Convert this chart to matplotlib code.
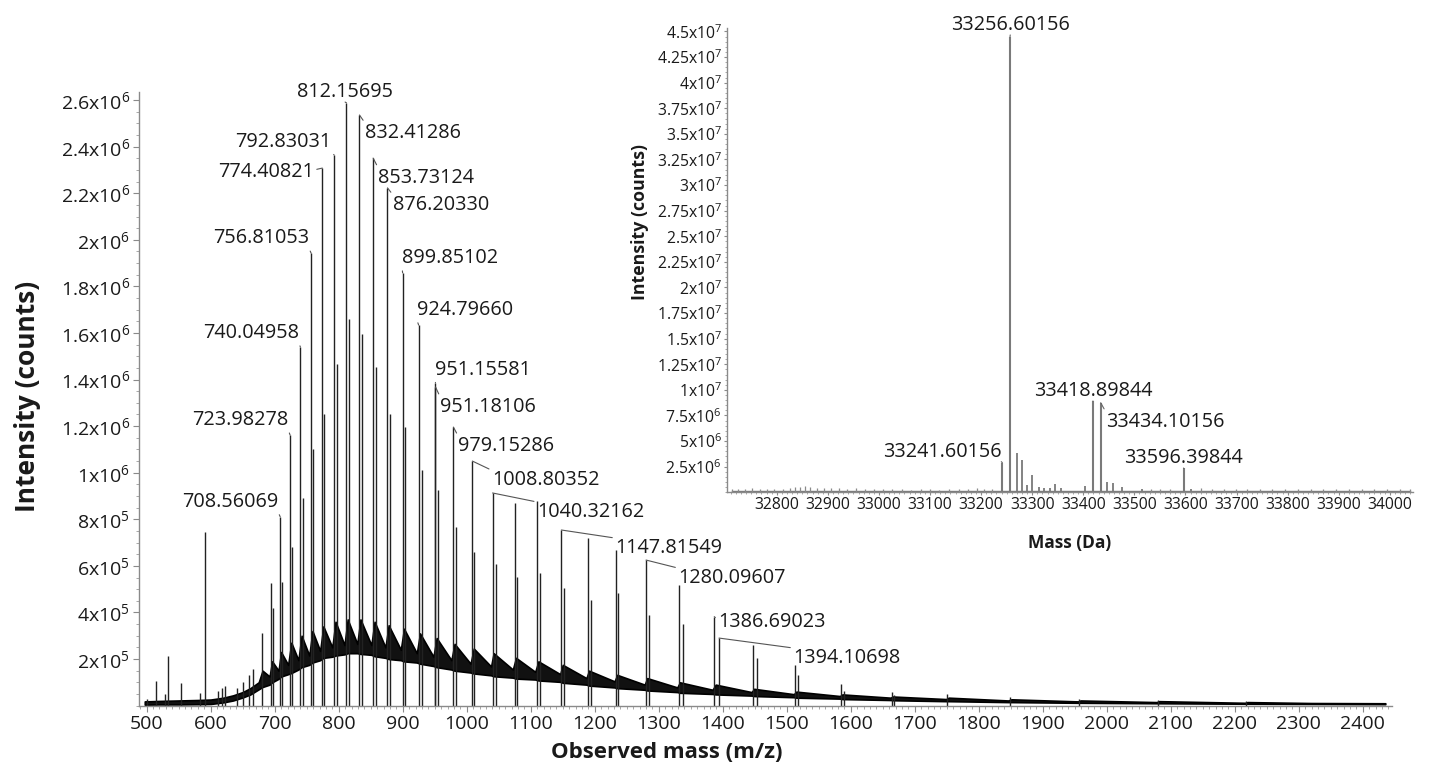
import numpy as np
import matplotlib.pyplot as plt
from matplotlib.ticker import MultipleLocator

plt.rcParams['font.family'] = ['Open Sans', 'DejaVu Sans']
plt.rcParams['mathtext.fontset'] = 'custom'
plt.rcParams['mathtext.rm'] = 'Open Sans'
plt.rcParams['mathtext.it'] = 'Open Sans:italic'
plt.rcParams['mathtext.bf'] = 'Open Sans:bold'

# ---------------- main spectrum data (m/z, counts) ----------------
# unlabelled peaks
peak_mz = [501, 514.5, 528, 533.4, 554, 584, 591, 611, 618, 622, 641, 651, 660, 666,
           679.7, 694, 698, 1075, 1109.5, 1189, 1233, 1331, 1447, 1513, 1585, 1664,
           1751, 1849, 1957, 2080, 2218,
           712, 727.5, 743.5, 760.5, 777.5, 797, 816.5, 837, 859, 880.5, 903.5,
           929.5, 955, 983.5, 1012, 1046, 1079, 1115, 1152.5, 1193.5, 1237,
           1285.5, 1337.5, 1453.5, 1517, 1590, 1668]
peak_int = [0.028e6, 0.107e6, 0.05e6, 0.213e6, 0.098e6, 0.055e6, 0.747e6, 0.063e6,
            0.075e6, 0.084e6, 0.075e6, 0.10e6, 0.13e6, 0.158e6,
            0.31e6, 0.525e6, 0.42e6, 0.869e6, 0.88e6, 0.718e6, 0.668e6, 0.518e6,
            0.26e6, 0.174e6, 0.093e6, 0.06e6, 0.05e6, 0.035e6, 0.028e6, 0.025e6, 0.018e6,
            0.53e6, 0.68e6, 0.89e6, 1.10e6, 1.25e6, 1.467e6, 1.659e6, 1.596e6, 1.453e6,
            1.25e6, 1.198e6, 1.01e6, 0.926e6, 0.768e6, 0.66e6, 0.61e6, 0.554e6,
            0.568e6, 0.504e6, 0.453e6, 0.482e6, 0.389e6, 0.352e6, 0.203e6, 0.131e6,
            0.063e6, 0.047e6]

# labelled peaks
label_txt = ['812.15695', '792.83031', '774.40821', '756.81053', '740.04958',
             '723.98278', '708.56069', '832.41286', '853.73124', '876.20330',
             '899.85102', '924.79660', '951.15581', '951.18106', '979.15286',
             '1008.80352', '1040.32162', '1147.81549', '1280.09607',
             '1386.69023', '1394.10698']
label_int = [2.588e6, 2.364e6, 2.308e6, 1.943e6, 1.540e6, 1.162e6, 0.811e6,
             2.536e6, 2.351e6, 2.223e6, 1.858e6, 1.634e6, 1.385e6, 1.368e6,
             1.196e6, 1.050e6, 0.913e6, 0.754e6, 0.625e6, 0.382e6, 0.290e6]

# noisy envelope of the spectrum (m/z, lower and upper edge in thousands of counts)
base_mz = [497, 520, 550, 580, 600, 620, 635, 650, 662, 675, 681, 692, 696, 706, 710,
           721, 726, 737, 742, 754, 759, 771, 776, 790, 795, 809, 814, 829, 834, 851,
           856, 873, 878, 897, 902, 922, 927, 948, 953, 976, 981, 1006, 1011, 1038,
           1042, 1072, 1077, 1107, 1112, 1146, 1150, 1187, 1191, 1231, 1235, 1278,
           1282, 1329, 1333, 1384, 1389, 1445, 1449, 1511, 1515, 1583, 1587, 1662,
           1666, 1749, 1753, 1846, 1851, 1955, 1959, 2078, 2082, 2216, 2220, 2320, 2435]
base_lo = [4, 5, 5, 6, 7, 14, 22, 35, 48, 70, 80, 90, 100, 115, 125,
           135, 140, 155, 165, 175, 185, 195, 205, 210, 215, 220, 225, 225, 222, 218,
           212, 205, 200, 195, 190, 185, 180, 170, 165, 155, 150, 142, 138, 130,
           126, 120, 116, 112, 108, 102, 98, 90, 86, 78, 75, 68,
           65, 58, 55, 50, 48, 43, 41, 36, 34, 30, 28, 24,
           23, 19, 19, 15, 15, 12, 12, 10, 10, 8, 8, 7, 6]
base_hi = [18, 20, 22, 24, 26, 34, 44, 58, 75, 100, 150, 125, 190, 150, 230,
           175, 270, 195, 300, 215, 320, 235, 340, 250, 360, 260, 370, 265, 370, 260,
           360, 250, 345, 240, 330, 225, 310, 210, 290, 195, 265, 180, 245, 168,
           225, 155, 205, 145, 190, 135, 175, 118, 150, 104, 132, 90,
           118, 78, 100, 68, 90, 58, 72, 49, 60, 41, 48, 34,
           39, 28, 34, 22, 27, 18, 22, 15, 19, 12, 15, 11, 10]

main_xticks = np.arange(500, 2401, 100)
main_yticks = [2e5, 4e5, 6e5, 8e5, 1e6, 1.2e6, 1.4e6, 1.6e6, 1.8e6, 2e6, 2.2e6, 2.4e6, 2.6e6]

# ---------------- inset (deconvoluted mass, Da) ----------------
inset_label_txt = ['33256.60156', '33241.60156', '33418.89844', '33434.10156', '33596.39844']
inset_label_int = [4.449e7, 2.89e6, 8.92e6, 8.75e6, 2.34e6]
inset_mz = [33270, 33280, 33290, 33299, 33313, 33324, 33335, 33345, 33357, 33404,
            33446, 33458, 33476, 33515, 33611]
inset_int = [3.81e6, 3.15e6, 0.71e6, 1.69e6, 0.55e6, 0.45e6, 0.40e6, 0.81e6, 0.45e6,
             0.65e6, 1.04e6, 0.94e6, 0.55e6, 0.30e6, 0.35e6]
noise_da = [32712, 32725, 32738, 32752, 32768, 32781, 32795, 32812, 32826, 32836, 32846,
            32856, 32866, 32878, 32892, 32906, 32922, 32938, 32955, 32972, 32990, 33008,
            33026, 33045, 33063, 33082, 33100, 33118, 33137, 33156, 33175, 33192, 33205,
            33222, 33532, 33551, 33570, 33630, 33652, 33675, 33698, 33720, 33745, 33770,
            33795, 33820, 33845, 33870, 33895, 33920, 33945, 33970, 33995, 34020, 34040]
noise_h = [0.30e6, 0.35e6, 0.28e6, 0.40e6, 0.30e6, 0.33e6, 0.28e6, 0.35e6, 0.45e6,
           0.55e6, 0.50e6, 0.60e6, 0.48e6, 0.40e6, 0.42e6, 0.38e6, 0.45e6, 0.35e6,
           0.40e6, 0.33e6, 0.30e6, 0.32e6, 0.28e6, 0.30e6, 0.27e6, 0.30e6, 0.28e6,
           0.25e6, 0.30e6, 0.28e6, 0.32e6, 0.45e6, 0.30e6, 0.35e6, 0.30e6, 0.35e6,
           0.30e6, 0.38e6, 0.30e6, 0.35e6, 0.30e6, 0.33e6, 0.35e6, 0.30e6, 0.32e6,
           0.36e6, 0.30e6, 0.34e6, 0.30e6, 0.33e6, 0.36e6, 0.30e6, 0.33e6, 0.35e6, 0.30e6]
inset_base = 0.15e6

inset_xticks = np.arange(32800, 34001, 100)
inset_yticks = [2.5e6, 5e6, 7.5e6, 1e7, 1.25e7, 1.5e7, 1.75e7, 2e7, 2.25e7, 2.5e7,
                2.75e7, 3e7, 3.25e7, 3.5e7, 3.75e7, 4e7, 4.25e7, 4.5e7]


def sci(v):
    e = int(np.floor(np.log10(v) + 1e-9))
    m = ('%.2f' % (v / 10 ** e)).rstrip('0').rstrip('.')
    return m + 'x10$^{%d}$' % e


def style_axes(a, fs, tlen, pad):
    for s in ['top', 'right']:
        a.spines[s].set_visible(False)
    for s in ['left', 'bottom']:
        a.spines[s].set_color('#8a8a8a')
        a.spines[s].set_linewidth(1.0)
    a.tick_params(which='major', direction='out', length=tlen, width=0.8,
                  color='#8a8a8a', labelsize=fs, labelcolor='#1a1a1a', pad=pad)
    a.tick_params(which='minor', direction='out', length=tlen * 0.5, width=0.6,
                  color='#9a9a9a')


W, H = 1429, 775
fig = plt.figure(figsize=(W / 100, H / 100), dpi=100)

# ---------------- main axes ----------------
ax = fig.add_axes([139 / W, 1 - 705.6 / H, (1391.7 - 139) / W, (705.6 - 91.7) / H])
ax.fill_between(base_mz, np.array(base_lo) * 1e3, np.array(base_hi) * 1e3,
                color='#111111', lw=1.2, edgecolor='black')
ax.vlines(peak_mz, 0, peak_int, color='#222222', lw=1.0)
label_mz = [float(t) for t in label_txt]
ax.vlines(label_mz, 0, label_int, color='#222222', lw=1.0)

# label placement (x, y of text baseline, alignment, connector anchor)
label_pos = [(810, 2.613e6, 'center', (0.5, 0)), (789.1, 2.400e6, 'right', (1, 0)),
             (761.4, 2.270e6, 'right', (1, 0.6)), (753.6, 1.985e6, 'right', (1, 0)),
             (738.0, 1.578e6, 'right', (1, 0)), (721.3, 1.204e6, 'right', (1, 0)),
             (705.2, 0.853e6, 'right', (1, 0)), (841.1, 2.437e6, 'left', (0, 1)),
             (861.4, 2.246e6, 'left', (0, 1)), (884.8, 2.128e6, 'left', (0, 1)),
             (898.9, 1.900e6, 'left', (0, 0)), (922.3, 1.677e6, 'left', (0, 0)),
             (950.5, 1.421e6, 'left', (0, 0)), (958.3, 1.262e6, 'left', (0, 1)),
             (986.4, 1.094e6, 'left', (0, 1)), (1039.1, 0.946e6, 'left', (0, 1)),
             (1109.4, 0.810e6, 'left', (0, 1)), (1231.7, 0.655e6, 'left', (0, 1)),
             (1330.2, 0.526e6, 'left', (0, 1)), (1392.7, 0.338e6, 'left', (0, 0.6)),
             (1509.8, 0.183e6, 'left', (0, 1))]
for t, m, h, (tx, ty, ha, rp) in zip(label_txt, label_mz, label_int, label_pos):
    ax.annotate(t, xy=(m, h), xytext=(tx, ty), ha=ha, va='baseline', fontsize=14.3,
                color='#1a1a1a', annotation_clip=False,
                arrowprops=dict(arrowstyle='-', color='#555555', lw=0.8,
                                shrinkA=0, shrinkB=0, relpos=rp))

ax.set_xlim(488, 2445)
ax.set_ylim(0, 2.636e6)
ax.set_xticks(main_xticks)
ax.set_xticklabels([str(v) for v in main_xticks])
ax.set_yticks(main_yticks)
ax.set_yticklabels([sci(v) for v in main_yticks])
ax.xaxis.set_minor_locator(MultipleLocator(10))
ax.yaxis.set_minor_locator(MultipleLocator(5e4))
style_axes(ax, 14, 4, 2.5)
fig.text(28 / W, 1 - 396 / H, 'Intensity (counts)', rotation=90, ha='center',
         va='center', fontsize=19, fontweight='bold', color='#1a1a1a')
fig.text(667 / W, 1 - 752 / H, 'Observed mass (m/z)', ha='center', va='center',
         fontsize=16, fontweight='bold', color='#1a1a1a')

# ---------------- inset axes ----------------
axi = fig.add_axes([726.7 / W, 1 - 492.3 / H, (1413.3 - 726.7) / W, (492.3 - 28) / H])
axi.patch.set_alpha(0)
axi.plot([noise_da[0], noise_da[-1]], [inset_base, inset_base], color='#7a7a7a', lw=1.0)
axi.vlines(noise_da, 0, noise_h, color='#8a8a8a', lw=0.9)
axi.vlines(inset_mz, 0, inset_int, color='#7a7a7a', lw=1.3)
inset_label_mz = [float(t) for t in inset_label_txt]
axi.vlines(inset_label_mz, 0, inset_label_int, color='#7a7a7a', lw=1.5)

inset_pos = [(33257, 4.515e7, 'center', (0.5, 0)), (33239.5, 3.48e6, 'right', (1, 0)),
             (33419, 9.41e6, 'center', (0.5, 0)), (33443.7, 6.41e6, 'left', (0, 1)),
             (33596.4, 2.86e6, 'center', (0.5, 0))]
for t, m, h, (tx, ty, ha, rp) in zip(inset_label_txt, inset_label_mz, inset_label_int, inset_pos):
    axi.annotate(t, xy=(m, h), xytext=(tx, ty), ha=ha, va='baseline', fontsize=14.3,
                 color='#1a1a1a', annotation_clip=False,
                 arrowprops=dict(arrowstyle='-', color='#666666', lw=0.8,
                                 shrinkA=0, shrinkB=0, relpos=rp))

axi.set_xlim(32702, 34046)
axi.set_ylim(0, 4.534e7)
axi.set_xticks(inset_xticks)
axi.set_xticklabels([str(v) for v in inset_xticks])
axi.set_yticks(inset_yticks)
axi.set_yticklabels([sci(v) for v in inset_yticks])
axi.xaxis.set_minor_locator(MultipleLocator(10))
axi.yaxis.set_minor_locator(MultipleLocator(5e5))
style_axes(axi, 11.3, 2.5, 1)
fig.text(640 / W, 1 - 222 / H, 'Intensity (counts)', rotation=90, ha='center',
         va='center', fontsize=12.8, fontweight='bold', color='#1a1a1a')
fig.text(1070 / W, 1 - 543 / H, 'Mass (Da)', ha='center', va='center',
         fontsize=12.5, fontweight='bold', color='#1a1a1a')

fig.savefig('out.png', dpi=100, facecolor='white')
